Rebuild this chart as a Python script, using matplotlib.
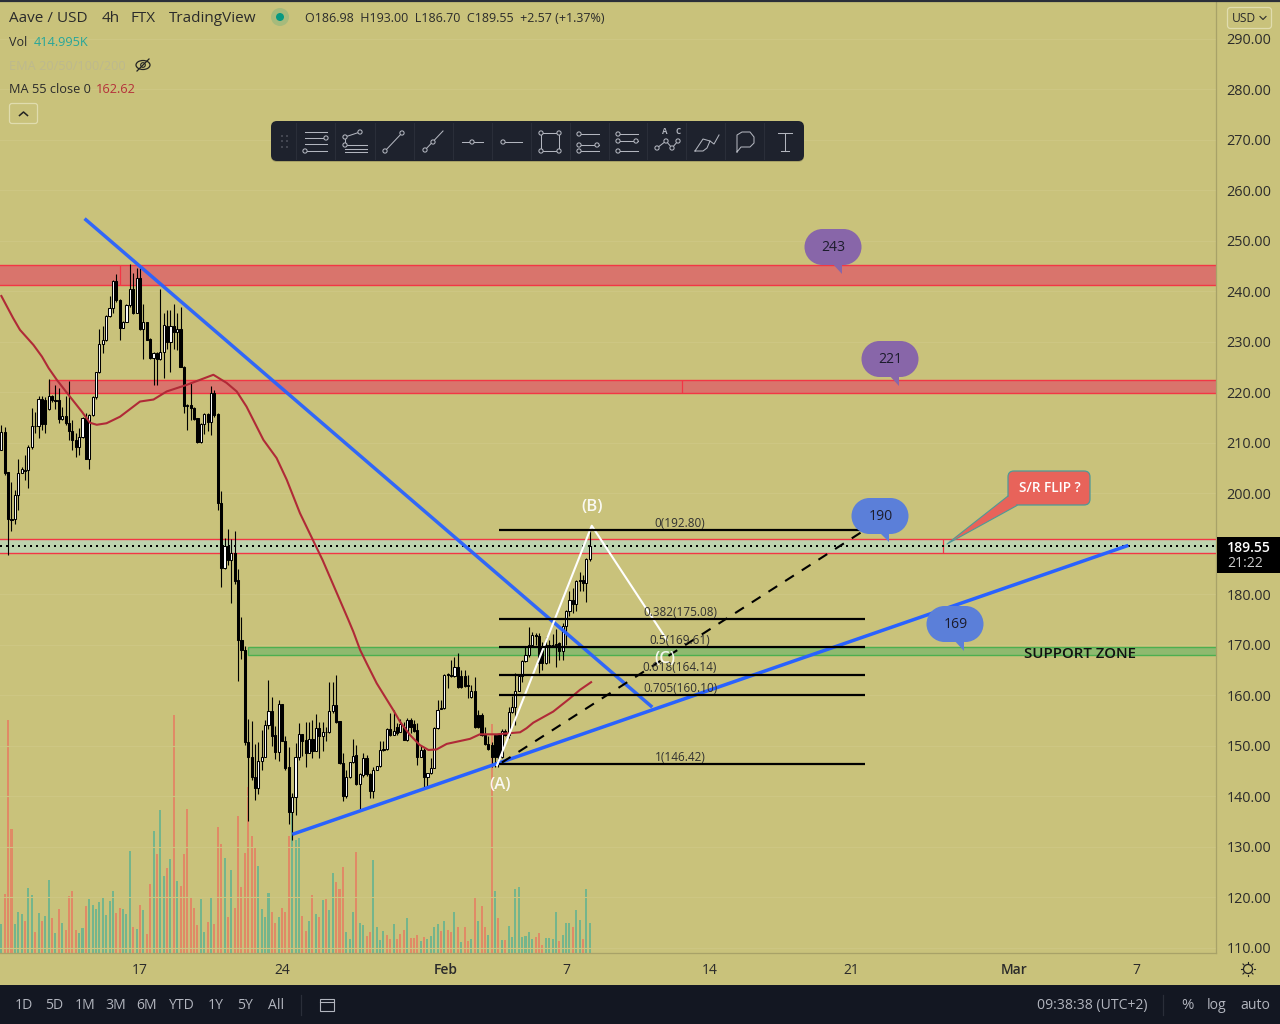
import matplotlib
matplotlib.use('Agg')
import matplotlib.pyplot as plt
from matplotlib.patches import Rectangle, FancyBboxPatch, Polygon, Circle, Ellipse

plt.rcParams['font.family'] = ['Open Sans', 'DejaVu Sans']

# 4h candles, one value per bar
opens = [208.6,212.1,204.2,194.9,194.9,199.6,204.1,204.6,204.6,209.1,
         213.4,213.3,218.8,218.5,216.8,219.3,218.5,218.6,214.7,215.3,
         213.9,212.4,210.6,209.1,211.1,214.9,206.9,215.5,219.0,224.0,
         229.5,230.4,235.1,236.7,242.0,238.4,232.8,234.0,237.3,240.5,
         235.8,242.6,232.5,233.9,230.5,226.9,227.8,226.6,228.0,233.2,
         229.9,233.2,232.0,232.5,225.1,217.4,217.5,216.9,214.9,210.1,
         213.7,215.7,214.2,219.8,215.7,198.2,185.2,189.6,186.8,188.3,
         182.9,171.0,169.0,150.7,147.9,143.8,141.6,147.0,147.9,154.1,
         156.9,152.2,148.7,158.4,151.0,145.8,137.0,139.8,147.9,152.4,
         151.2,148.5,151.3,149.0,153.5,151.9,152.8,152.8,156.9,158.2,
         154.9,146.6,140.0,143.9,146.9,148.2,142.4,144.3,147.6,144.5,
         141.1,145.2,146.1,149.1,149.3,153.3,152.2,153.8,152.8,153.8,
         151.1,155.1,154.4,153.2,147.8,149.2,143.9,144.6,145.7,153.5,
         157.3,157.5,164.1,164.0,163.9,165.7,163.9,163.9,162.1,159.6,
         160.8,156.1,156.1,152.2,150.4,150.2,152.2,152.2,147.9,153.0,
         152.2,156.7,157.7,160.9,163.9,166.8,168.0,169.9,172.0,171.7,
         169.8,166.4,170.0,170.0,170.1,170.3,168.7,173.8,176.8,178.9,
         178.2,182.9,182.9,182.2,186.98]
highs = [213.6,213.2,204.2,202.3,200.7,206.8,205.3,207.6,209.6,216.9,
         216.2,219.3,219.3,219.0,222.6,219.5,221.5,220.8,217.2,219.2,
         222.3,214.5,211.9,212.9,215.2,215.9,215.7,219.2,224.1,232.5,
         233.2,235.3,239.1,242.3,243.5,238.6,234.1,237.5,245.5,243.6,
         244.6,244.6,237.6,234.0,230.7,228.1,228.1,240.5,235.7,236.3,
         236.3,237.6,235.7,237.0,225.2,217.8,222.0,217.2,215.0,213.9,
         216.0,216.0,221.3,220.5,215.9,200.4,191.2,193.0,190.9,192.5,
         185.0,175.5,169.7,155.3,154.9,150.4,150.8,153.2,155.2,163.1,
         159.6,154.0,159.1,158.4,152.0,149.7,140.6,150.5,154.6,152.4,
         154.8,154.8,155.2,156.3,154.8,154.8,153.8,162.7,162.7,164.0,
         154.9,148.5,145.2,146.9,151.3,150.2,144.6,148.5,148.3,144.6,
         145.9,146.1,150.9,150.9,153.5,156.5,157.1,154.5,155.3,154.8,
         155.5,155.5,155.1,154.6,149.9,149.5,144.6,147.6,153.8,159.1,
         159.1,164.3,164.4,167.0,167.7,168.4,165.0,165.0,164.0,162.1,
         163.6,157.1,156.5,153.8,151.9,150.8,152.2,152.2,153.3,153.3,
         157.8,159.8,164.4,164.0,167.0,169.7,173.5,172.6,172.3,172.3,
         170.5,171.5,171.0,172.2,173.1,170.6,174.3,176.9,180.6,181.2,
         182.9,184.5,183.9,187.2,193.0]
lows = [208.6,203.7,187.9,192.6,194.0,196.7,204.0,202.7,201.0,208.9,
        211.9,210.9,212.6,212.0,216.6,218.2,216.8,213.9,214.6,213.6,
        210.6,208.6,207.3,207.6,210.9,206.8,204.8,215.3,218.8,223.8,
        227.8,230.1,235.0,235.7,238.0,230.4,232.7,233.9,237.0,235.5,
        235.7,232.4,226.7,230.4,226.6,221.5,221.5,226.4,222.9,228.7,
        224.1,228.7,228.4,225.0,216.0,212.6,214.5,214.5,209.9,209.9,
        211.8,212.4,211.6,215.2,196.7,181.5,185.1,185.9,178.4,182.0,
        162.9,167.2,150.2,135.2,143.3,139.3,140.5,145.3,147.8,153.4,
        149.9,147.4,147.1,150.9,145.3,134.6,131.4,136.3,147.2,148.0,
        145.9,148.5,147.6,148.9,147.6,148.9,150.9,152.6,156.6,154.5,
        146.4,139.0,139.6,143.6,146.6,142.3,137.3,143.9,144.1,139.6,
        139.6,145.2,145.9,148.9,149.2,152.0,152.2,152.2,152.7,151.1,
        150.9,152.5,152.8,146.2,147.8,141.6,141.8,144.4,145.6,153.3,
        157.3,157.3,161.4,163.6,163.7,161.4,161.4,161.7,159.4,159.4,
        153.6,153.5,152.0,150.2,149.2,145.9,145.9,145.9,147.6,152.0,
        151.5,156.5,154.2,160.8,162.7,166.7,167.7,169.9,170.0,164.4,
        165.0,166.2,166.4,169.7,165.7,167.0,167.0,170.0,175.7,176.3,
        176.8,180.6,180.7,178.6,186.7]
closes = [212.1,204.1,194.9,194.8,199.6,204.1,204.8,204.5,209.1,213.4,
          213.3,218.8,213.7,213.7,219.3,218.5,218.4,214.7,215.3,213.9,
          212.4,210.5,209.1,211.1,214.9,206.9,215.5,219.0,224.0,229.5,
          230.4,235.1,236.7,242.0,238.3,232.8,234.0,237.3,240.5,235.8,
          242.6,232.5,233.9,230.4,226.8,227.8,226.6,228.0,233.4,229.9,
          233.1,232.0,232.5,225.1,217.4,217.6,216.9,214.8,210.1,213.7,
          215.7,214.2,219.8,215.5,198.2,185.2,189.6,186.8,188.3,182.7,
          171.0,168.9,150.7,147.9,143.8,141.6,147.0,147.9,154.1,156.9,
          151.9,148.7,158.4,151.0,145.6,137.0,139.8,147.9,152.3,150.9,
          148.5,151.3,149.0,153.5,151.9,152.8,152.7,156.9,158.2,154.8,
          146.6,140.0,143.9,146.9,148.1,142.4,144.4,147.6,144.4,141.1,
          145.2,146.1,149.1,149.3,153.3,152.2,153.0,152.5,154.3,151.1,
          155.1,153.8,153.0,147.8,149.1,143.9,144.6,145.7,153.5,157.2,
          157.5,164.1,164.0,163.8,165.7,161.6,161.6,161.9,161.9,160.8,
          153.7,153.7,152.2,150.4,149.4,147.9,147.9,147.9,153.0,152.2,
          156.7,157.7,160.9,163.9,166.8,168.0,169.9,172.0,171.7,166.4,
          166.4,170.0,169.8,169.9,170.0,168.7,173.8,176.8,178.9,178.2,
          182.7,182.7,182.2,186.98,189.55]

# volume in thousands, colours read bar by bar
volumes = [401,812,3192,1696,401,561,538,442,889,798,
           287,547,442,511,1003,483,278,602,410,319,
           775,853,319,278,347,648,743,661,606,702,
           771,524,716,853,552,620,606,538,1400,360,
           333,661,593,264,948,1674,1359,1961,1058,1167,
           1290,3260,990,921,1359,1974,771,620,388,743,
           292,429,757,401,1728,1496,1304,497,1140,620,
           1879,907,1373,2271,1596,1441,1195,606,497,825,
           565,415,497,620,565,1605,1938,1550,1578,506,
           301,438,793,534,497,725,739,588,1090,976,
           880,1176,287,192,556,1382,410,383,233,287,
           1272,356,178,301,246,192,397,192,260,315,
           479,205,205,246,164,219,192,233,356,397,
           301,438,315,287,561,356,150,356,164,192,
           766,438,643,356,246,3133,853,483,182,182,
           374,223,880,907,223,237,292,196,223,278,
           114,210,210,196,565,169,251,415,415,360,
           593,456,196,880,415]
vol_dirs = ('GRRRGGGRGG' 'RGRGGRGRGR' 'RRRGGRGGGG' 'GGGGRRGGGR' 'GRGRRGRGGR'
            'GRGRRRRRRG' 'GRGRRRGRGR' 'RRRRRRGGGG' 'RRGRRRGGGR' 'RGRGRGRGGR'
            'RRGGGRGGRR' 'GGGGRRGRRR' 'GRRRGRGGGG' 'RGRRGRGRRG' 'RGRRGRGRGR'
            'GGGGGGGGRR' 'RGGGGRGGGR' 'GGRGG')

# MA 55 close
ma_bars = [0,3.5,5.5,9.5,12,14,16.4,19.3,23.8,26.2,28.2,31.1,35.1,41,45,48.9,54.8,62.7,66.6,
           69.6,72.5,77.5,81.4,84.4,88.3,95,102.6,104.1,106.1,108,111,115.9,117.9,120.8,
           123.7,126.3,128.7,131.7,138.6,141.5,146.5,153.4,155.3,157.3,163.2,168.1,171.1,174.4]
ma_vals = [239.1,234.7,232.4,229.4,227.1,224.8,222.5,220,216.2,214,213.6,213.9,215.2,218.2,218.6,
           220.2,221.5,223.5,221.9,220.2,217.2,210.6,207,202.7,196.1,186.8,175,172.6,169,166.4,
           162.4,157.1,154.8,152.2,150.2,149.2,149.3,150.4,151.4,152.3,152.3,152.7,153.5,154.6,
           156.8,159.4,161.1,162.62]

price_ticks = list(range(110, 300, 10))
time_ticks = [41, 83, 131.3, 167, 209.5, 251.3, 299.4, 335.6]
time_labels = ['17', '24', 'Feb', '7', '14', '21', 'Mar', '7']

fib_levels = [192.80, 175.08, 169.61, 164.14, 160.10, 146.42]
fib_names = ['0(192.80)', '0.382(175.08)', '0.5(169.61)', '0.618(164.14)', '0.705(160.10)', '1(146.42)']
fib_start, fib_end = 147.2, 255.4

BG = '#c9c27b'
BLUE = '#2962ff'
DARK = '#131722'
TXT = '#2b2b2b'

fig = plt.figure(figsize=(12.8, 10.24), dpi=100, facecolor=BG)
ax = fig.add_axes([0, 71/1024, 1216/1280, 953/1024])
ax.set_xlim(-0.4, 359.2)
ax.set_ylim(108.99, 297.72)
ax.patch.set_visible(False)
ax.set_zorder(3)

# volume sits underneath the price panel
vol = ax.twinx()
vol.set_ylim(0, 13037)
vol.set_zorder(1)
vol.patch.set_visible(False)
vol.axis('off')
bars = list(range(len(closes)))
vol.bar(bars, volumes, width=0.6, linewidth=0,
        color=['#74b58c' if d == 'G' else '#e08a66' for d in vol_dirs])

for p in price_ticks:
    ax.axhline(p, color='#cdc683', lw=0.8, zorder=0)

# zones
def zone(start, top, bottom, face, edge):
    ax.add_patch(Rectangle((start, bottom), 400, top - bottom, facecolor=face, edgecolor=edge, lw=1.0, zorder=1))

zone(-5, 245.15, 241.2, '#d9746c', '#f23645')
zone(14, 222.5, 219.9, '#d9746c', '#f23645')
zone(-5, 190.9, 188.3, '#bdd3ae', '#f23645')
zone(73, 169.5, 168.1, '#8fb96f', '#4caf50')
ax.vlines([35], 241.2, 245.15, color='#f23645', lw=0.9, zorder=1)
ax.vlines([201.3], 219.9, 222.5, color='#f23645', lw=0.9, zorder=1)
ax.vlines([278.4], 188.3, 190.9, color='#f23645', lw=0.9, zorder=1)

# candles
wicks = ax.vlines(bars, lows, highs, color='black', lw=0.8, zorder=3)
wicks.set_snap(True)
for i in bars:
    up = closes[i] >= opens[i]
    low, high = min(opens[i], closes[i]), max(opens[i], closes[i])
    ax.add_patch(Rectangle((i - 0.32, low), 0.64, max(high - low, 0.15),
                           facecolor='white' if up else 'black', edgecolor='black', lw=0.75, zorder=4))

ax.plot(ma_bars, ma_vals, color='#b02a37', lw=1.5, zorder=5)
ax.axhline(closes[-1], color='black', lw=1.44, ls=(0, (1, 2)), zorder=5)

# drawings
ax.plot([25, 192.1], [254.2, 157.9], color=BLUE, lw=2.5, alpha=0.95, zorder=6)
ax.plot([86.5, 332.8], [132.6, 189.6], color=BLUE, lw=2.5, zorder=6)
ax.plot([148, 254.5], [146.7, 192.4], color='black', lw=1.5, ls=(0, (5, 4.5)), zorder=6)
ax.plot([146.6, 174.6, 196.8], [146.2, 193.6, 171], color='white', lw=1.5, zorder=6)
ax.hlines(fib_levels, fib_start, fib_end, color='black', lw=1.6, zorder=6)
for lvl, name in zip(fib_levels, fib_names):
    ax.text(200.7, lvl + 1.3, name, ha='center', va='center', fontsize=8.5, color='#303030', zorder=7)
for x, y, s in [(147.4, 142.3, '(A)'), (174.6, 197.4, '(B)'), (196.3, 167.2, '(C)')]:
    ax.text(x, y, s, ha='center', va='center', fontsize=12, fontweight='semibold', color='white',
            alpha=0.9, zorder=7)
ax.text(319, 168.3, 'SUPPORT ZONE', ha='center', va='center', fontsize=10.8, color='#111111',
        fontweight='semibold', zorder=7)

# axes
ax.yaxis.tick_right()
ax.set_yticks(price_ticks)
ax.set_yticklabels(['%.2f' % p for p in price_ticks], fontsize=10.4, color=TXT)
ax.set_xticks(time_ticks)
ax.set_xticklabels(time_labels, fontsize=10, color=TXT)
for lab in ax.get_xticklabels():
    if lab.get_text() in ('Feb', 'Mar'):
        lab.set_fontweight('semibold')
ax.tick_params(axis='y', length=0, pad=7.5)
ax.tick_params(axis='x', length=0, pad=7)
for side in ('top', 'left'):
    ax.spines[side].set_visible(False)
for side in ('right', 'bottom'):
    ax.spines[side].set_color('#a8a268')
    ax.spines[side].set_linewidth(0.9)

# everything else in screen pixels
ui = fig.add_axes([0, 0, 1, 1])
ui.set_xlim(0, 1280)
ui.set_ylim(1024, 0)
ui.axis('off')
ui.patch.set_visible(False)
ui.set_zorder(6)


def label(x, y, s, size=14, color=TXT, ha='left', **kw):
    ui.text(x, y + 1.5, s, fontsize=size * 0.72, color=color, ha=ha, va='center', **kw)


def bubble(cx, cy, text, face, tip):
    ui.add_patch(Circle((cx - 10.5, cy), 18, facecolor=face, edgecolor='none'))
    ui.add_patch(Circle((cx + 10.5, cy), 18, facecolor=face, edgecolor='none'))
    ui.add_patch(Rectangle((cx - 10.5, cy - 18), 21, 36, facecolor=face, edgecolor='none'))
    ui.add_patch(Polygon([(cx - 2, cy + 15), (cx + 9, cy + 15), tip], facecolor=face, edgecolor='none'))
    label(cx + 0.5, cy - 1, text, ha='center', color='#1c1c2c')


bubble(833, 247, '243', '#8866a9', (842, 274))
bubble(890, 359, '221', '#8866a9', (899, 386))
bubble(880, 516, '190', '#5b7fd9', (889, 542))
bubble(955, 624, '169', '#5b7fd9', (964, 651))

ui.add_patch(FancyBboxPatch((1008, 471), 82, 34, boxstyle='round,pad=0,rounding_size=6',
                            facecolor='#e8635a', edgecolor='#4e9a98', lw=0.9))
ui.add_patch(Polygon([(1008, 496), (1017, 505.5), (947, 544)], facecolor='#e8635a', edgecolor='none'))
ui.plot([1008, 947, 1017], [496, 544, 505.5], color='#4e9a98', lw=0.8)
label(1049.5, 486, 'S/R FLIP ?', ha='center', size=13.6, color='white', fontweight='semibold')

# header
label(9, 17, 'Aave / USD', size=15.2)
label(101.5, 17, '4h', size=15.2)
label(131, 17, 'FTX', size=15.2)
label(169, 17, 'TradingView', size=15.2)
ui.add_patch(Circle((280, 17), 9, color='#089981', alpha=0.18, lw=0))
ui.add_patch(Circle((280, 17), 4, color='#089981', lw=0))
label(305, 17, 'O186.98  H193.00  L186.70  C189.55  +2.57 (+1.37%)', size=12.5)
label(9, 41, 'Vol', size=12.5)
label(34, 41, '414.995K', size=12.8, color='#26a69a')
label(9, 64.5, 'EMA 20/50/100/200', size=12.8, color='#bdb98e')
ui.add_patch(Ellipse((143, 65), 14, 9, fill=False, ec='#222222', lw=0.9))
ui.add_patch(Circle((143, 65), 2.3, fill=False, ec='#222222', lw=0.8))
ui.plot([137, 149], [71, 59], color='#222222', lw=0.9)
label(9, 88, 'MA 55 close 0', size=12.8)
label(96, 88, '162.62', size=12.8, color='#b5303a')
ui.add_patch(FancyBboxPatch((9.5, 103.5), 28, 20, boxstyle='round,pad=0,rounding_size=2.5',
                            facecolor='none', edgecolor='#e0dcae', lw=0.9))
ui.plot([19.5, 23.5, 27.5], [115.5, 112, 115.5], color='#222222', lw=1.1)

# right scale bits
ui.add_patch(FancyBboxPatch((1227.5, 7.5), 44, 21, boxstyle='round,pad=0,rounding_size=3',
                            facecolor=BG, edgecolor='#e0dcae', lw=0.9))
label(1232, 17, 'USD', size=12)
ui.plot([1260, 1263, 1266], [16.5, 19.5, 16.5], color=TXT, lw=0.8)
ui.add_patch(Rectangle((1217, 537), 63, 36, facecolor='black', edgecolor='none'))
label(1249, 546, '189.55', color='white', ha='center', fontweight='semibold')
label(1245, 562, '21:22', color='#cccccc', ha='center')
ui.add_patch(Circle((1248, 969), 4.5, fill=False, ec='#222222', lw=0.9))
for dx, dy in [(0, -7), (0, 7), (-7, 0), (7, 0), (-5, -5), (5, 5), (-5, 5), (5, -5)]:
    ui.plot([1248 + dx * 0.8, 1248 + dx], [969 + dy * 0.8, 969 + dy], color='#222222', lw=0.8)

# bottom bar
ui.add_patch(Rectangle((0, 985), 1280, 39, facecolor=DARK, edgecolor='none'))
ui.plot([0, 1280], [0.5, 0.5], color='#2a2e39', lw=1.6)
for x, s in zip([24, 54, 85, 116, 147, 182, 216, 245, 276], ['1D', '5D', '1M', '3M', '6M', 'YTD', '1Y', '5Y', 'All']):
    label(x, 1004, s, ha='center', color='#b2b5be')
ui.plot([301, 301], [995, 1015], color='#2a2e39', lw=0.9)
ui.add_patch(Rectangle((319.5, 999), 14, 12, fill=False, ec='#b2b5be', lw=0.8))
ui.plot([319.5, 333.5], [1002, 1002], color='#b2b5be', lw=0.8)
ui.plot([1163, 1163], [995, 1015], color='#2a2e39', lw=0.9)
label(1092.5, 1004, '09:38:38 (UTC+2)', ha='center', color='#b2b5be')
label(1187, 1004, '%', ha='center', color='#b2b5be', size=15)
label(1217, 1004, 'log', ha='center', color='#b2b5be')
label(1255, 1004, 'auto', ha='center', color='#b2b5be')

# drawing toolbar
ICON = '#b2b5be'
ui.add_patch(FancyBboxPatch((271, 122), 533, 40, boxstyle='round,pad=0,rounding_size=6',
                            facecolor='#8f8a58', edgecolor='none', alpha=0.6))
ui.add_patch(FancyBboxPatch((271, 121), 533, 40, boxstyle='round,pad=0,rounding_size=6',
                            facecolor='#1e222d', edgecolor='none'))
for x in [296, 335, 374.5, 414, 453, 492, 530.5, 569.5, 608.5, 647, 686, 725, 764]:
    ui.plot([x, x], [123, 159], color='#2a2e39', lw=0.8)
for x in (281.5, 287):
    for y in (136, 141, 147):
        ui.add_patch(Rectangle((x - 1, y - 1), 2, 2, facecolor='#434651', edgecolor='none'))


def seg(*pts):
    ui.plot([p[0] for p in pts], [p[1] for p in pts], color=ICON, lw=0.75)


def dots(*pts):
    for p in pts:
        ui.add_patch(Circle(p, 2.1, facecolor='#1e222d', edgecolor=ICON, lw=0.75, zorder=5))


seg((305, 132), (327, 132)); seg((305, 138), (327, 138)); seg((305, 144), (327, 144)); seg((305, 151), (327, 151))
dots((326, 138), (305, 151))
seg((345, 137), (360, 132)); seg((345, 137), (345, 145)); seg((345, 145), (367, 145)); seg((345, 149), (367, 149)); seg((345, 152), (367, 152))
dots((345, 137), (360, 132), (345, 145))
seg((385, 151), (402, 133)); dots((385, 151), (402, 133))
seg((425, 150), (443, 131)); dots((425, 150), (433, 142))
seg((462, 142), (483, 142)); dots((472, 142))
seg((503, 142), (522, 142)); dots((503, 142))
seg((541, 133), (559, 133), (559, 151), (541, 151), (541, 133)); dots((541, 133), (559, 133), (541, 151), (559, 151))
seg((579, 134), (599, 134)); seg((579, 145), (599, 145)); seg((579, 151), (599, 151)); dots((579, 134), (579, 145), (597, 145), (579, 151))
seg((618, 134), (638, 134)); seg((618, 141), (638, 141)); seg((618, 151), (638, 151)); dots((618, 134), (618, 141), (636, 141), (618, 151))
seg((657, 148), (666, 141), (672, 148), (678, 141)); dots((657, 148), (666, 141), (672, 148), (678, 141))
ui.text(665, 132, 'A', fontsize=5.8, color=ICON, ha='center', va='center', fontweight='bold')
ui.text(678, 132, 'C', fontsize=5.8, color=ICON, ha='center', va='center', fontweight='bold')
seg((695, 151), (703, 139), (710, 141), (707, 148), (703, 151), (695, 151)); seg((710, 141), (714, 144), (719, 135))
seg((737, 152), (737, 135), (742, 132), (750, 132), (754, 137), (754, 143), (750, 147), (741, 147), (737, 152))
seg((785, 133), (785, 151)); seg((778, 133), (792, 133)); seg((781, 151), (789, 151))

fig.savefig('out.png', dpi=100, facecolor=BG)
